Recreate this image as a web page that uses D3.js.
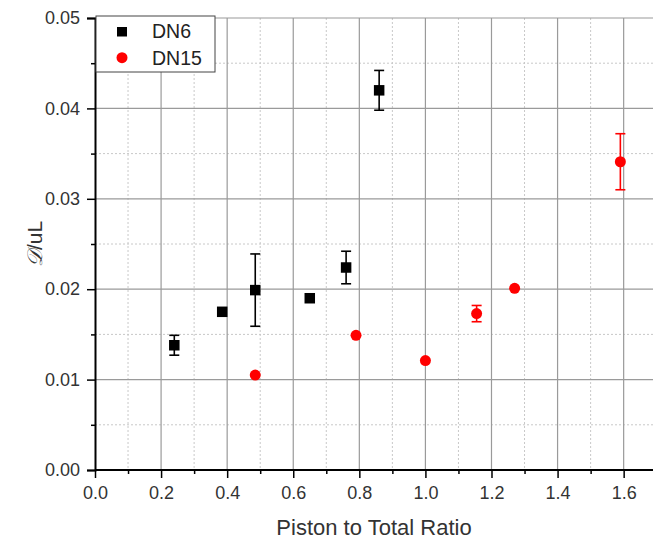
<!DOCTYPE html>
<html><head><meta charset="utf-8">
<script src="https://cdn.jsdelivr.net/npm/d3@7"></script>
<style>body{margin:0;background:#fff}svg{display:block}text{font-family:"Liberation Sans",Arial,sans-serif}</style>
</head><body><svg id="c" width="653" height="541"></svg>
<script>
const dn6X = [0.24, 0.385, 0.485, 0.65, 0.76, 0.86];
const dn6Y = [0.0138, 0.0175, 0.0199, 0.0190, 0.0224, 0.0420];
const dn6Err = [0.0011, 0.0002, 0.0040, 0.0003, 0.0018, 0.0022];
const dn15X = [0.485, 0.79, 1.0, 1.155, 1.27, 1.59];
const dn15Y = [0.0105, 0.0149, 0.0121, 0.0173, 0.0201, 0.0341];
const dn15Err = [0.0002, 0.0002, 0.0002, 0.0009, 0.0002, 0.0031];
const xTicks = [0.0, 0.2, 0.4, 0.6, 0.8, 1.0, 1.2, 1.4, 1.6];
const yTicks = [0.00, 0.01, 0.02, 0.03, 0.04, 0.05];
const seriesNames = ["DN6", "DN15"];
const seriesColors = ["#000000", "#ff0000"];

const svg = d3.select("#c");
const x = d3.scaleLinear().domain([0, 1.7]).range([95, 656.7]);
const y = d3.scaleLinear().domain([0, 0.05]).range([470, 18]);

const xMinor = d3.range(0, 17).map(i => i * 0.1 + 0.1).filter(v => Math.round(v*10) % 2 === 1);
const yMinor = d3.range(0, 5).map(i => i * 0.01 + 0.005);

const g = svg.append("g");
// minor grid
g.selectAll(".mgx").data(xMinor).join("line")
  .attr("x1", d => x(d)).attr("x2", d => x(d)).attr("y1", y(0.05)).attr("y2", y(0))
  .attr("stroke", "#c8c8c8").attr("stroke-dasharray", "2,2").attr("stroke-width", 1);
g.selectAll(".mgy").data(yMinor).join("line")
  .attr("x1", x(0)).attr("x2", 653).attr("y1", d => y(d)).attr("y2", d => y(d))
  .attr("stroke", "#c8c8c8").attr("stroke-dasharray", "2,2").attr("stroke-width", 1);
// major grid
g.selectAll(".gx").data(xTicks.slice(1)).join("line")
  .attr("x1", d => x(d)).attr("x2", d => x(d)).attr("y1", y(0.05)).attr("y2", y(0))
  .attr("stroke", "#9a9a9a").attr("stroke-width", 1.2);
g.selectAll(".gy").data(yTicks.slice(1)).join("line")
  .attr("x1", x(0)).attr("x2", 653).attr("y1", d => y(d)).attr("y2", d => y(d))
  .attr("stroke", "#9a9a9a").attr("stroke-width", 1.2);

// axes
const fmtX = d3.format(".1f"), fmtY = d3.format(".2f");
const xAxis = svg.append("g").attr("transform", `translate(0,${y(0)})`)
  .call(d3.axisBottom(x).tickValues(xTicks).tickFormat(fmtX).tickSizeOuter(0).tickSize(8).tickPadding(8));
svg.append("g").attr("transform", `translate(0,${y(0)})`)
  .call(d3.axisBottom(x).tickValues(xMinor).tickFormat("").tickSizeOuter(0).tickSize(4))
  .select(".domain").remove();
const yAxis = svg.append("g").attr("transform", `translate(${x(0)},0)`)
  .call(d3.axisLeft(y).tickValues(yTicks).tickFormat(fmtY).tickSizeOuter(0).tickSize(8).tickPadding(7));
svg.append("g").attr("transform", `translate(${x(0)},0)`)
  .call(d3.axisLeft(y).tickValues(yMinor).tickFormat("").tickSizeOuter(0).tickSize(4))
  .select(".domain").remove();
svg.selectAll(".domain").attr("stroke", "#000").attr("stroke-width", 2);
svg.selectAll(".tick line").attr("stroke", "#000").attr("stroke-width", 1.5);
svg.selectAll(".tick text").attr("font-size", 18).attr("fill", "#333")
  .attr("font-family", "'Liberation Sans', Arial, sans-serif");
xAxis.select(".domain").attr("d", `M${x(0)},0H653`);

// labels
svg.append("text").attr("x", 374).attr("y", 535).attr("text-anchor", "middle")
  .attr("font-size", 22).attr("fill", "#333").text("Piston to Total Ratio");
svg.append("text").attr("transform", `translate(42,${y(0.025)}) rotate(-90)`)
  .attr("text-anchor", "middle").attr("font-size", 21).attr("fill", "#333")
  .html('<tspan font-family="DejaVu Serif, serif" font-style="italic">𝒟</tspan>/uL');

// data
function drawSeries(xs, ys, es, color, shape) {
  const gg = svg.append("g");
  const data = xs.map((v, i) => ({x: v, y: ys[i], e: es[i]}));
  const cap = 5;
  data.forEach(d => {
    if (y(d.y - d.e) - y(d.y + d.e) > 12) {
      gg.append("line").attr("x1", x(d.x)).attr("x2", x(d.x))
        .attr("y1", y(d.y + d.e)).attr("y2", y(d.y - d.e)).attr("stroke", color).attr("stroke-width", 1.6);
      [d.y + d.e, d.y - d.e].forEach(v => gg.append("line")
        .attr("x1", x(d.x) - cap).attr("x2", x(d.x) + cap).attr("y1", y(v)).attr("y2", y(v))
        .attr("stroke", color).attr("stroke-width", 1.6));
    }
  });
  if (shape === "square") {
    gg.selectAll("rect").data(data).join("rect")
      .attr("x", d => x(d.x) - 5.25).attr("y", d => y(d.y) - 5.25)
      .attr("width", 10.5).attr("height", 10.5).attr("fill", color);
  } else {
    gg.selectAll("circle").data(data).join("circle")
      .attr("cx", d => x(d.x)).attr("cy", d => y(d.y)).attr("r", 5.5).attr("fill", color);
  }
}
drawSeries(dn6X, dn6Y, dn6Err, seriesColors[0], "square");
drawSeries(dn15X, dn15Y, dn15Err, seriesColors[1], "circle");

// legend
const lg = svg.append("g");
lg.append("rect").attr("x", 96).attr("y", 16).attr("width", 119).attr("height", 56)
  .attr("fill", "#fff").attr("stroke", "#444").attr("stroke-width", 1);
lg.append("rect").attr("x", 117).attr("y", 27).attr("width", 10).attr("height", 9.5).attr("fill", seriesColors[0]);
lg.append("circle").attr("cx", 122).attr("cy", 57.7).attr("r", 5.5).attr("fill", seriesColors[1]);
lg.selectAll("text").data(seriesNames).join("text")
  .attr("x", 152).attr("y", (d, i) => 38 + i * 27).attr("font-size", 19.5).attr("fill", "#222").text(d => d);
</script></body></html>
